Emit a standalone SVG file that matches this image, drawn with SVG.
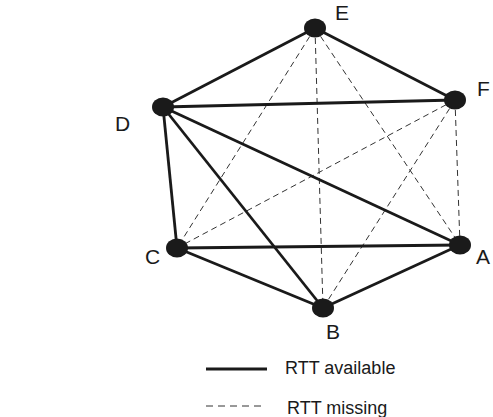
<svg xmlns="http://www.w3.org/2000/svg" width="493" height="417" viewBox="0 0 493 417">
<style>
.solid{stroke:#1a1a1a;stroke-width:2.8;fill:none}
.dash{stroke:#333;stroke-width:1;stroke-dasharray:6 4;fill:none}
.node{fill:#1a1a1a}
.lbl{font-family:"Liberation Sans",Arial,sans-serif;font-size:21px;fill:#1a1a1a}
.leg{font-family:"Liberation Sans",Arial,sans-serif;font-size:18px;fill:#1a1a1a}
</style>
<rect width="493" height="417" fill="#fff"/>
<g id="connectors">
<line class="dash" x1="315" y1="28" x2="177" y2="248"/>
<line class="dash" x1="315" y1="28" x2="323" y2="308"/>
<line class="dash" x1="315" y1="28" x2="460" y2="245"/>
<line class="dash" x1="455" y1="100" x2="177" y2="248"/>
<line class="dash" x1="455" y1="100" x2="323" y2="308"/>
<line class="dash" x1="455" y1="100" x2="460" y2="245"/>
<line class="solid" x1="315" y1="28" x2="163" y2="107"/>
<line class="solid" x1="315" y1="28" x2="455" y2="100"/>
<line class="solid" x1="163" y1="107" x2="455" y2="100"/>
<line class="solid" x1="163" y1="107" x2="177" y2="248"/>
<line class="solid" x1="163" y1="107" x2="460" y2="245"/>
<line class="solid" x1="163" y1="107" x2="323" y2="308"/>
<line class="solid" x1="177" y1="248" x2="460" y2="245"/>
<line class="solid" x1="177" y1="248" x2="323" y2="308"/>
<line class="solid" x1="323" y1="308" x2="460" y2="245"/>
</g>
<g id="E"><ellipse class="node" cx="315" cy="28" rx="11" ry="9.5"/><text class="lbl" x="335" y="20">E</text></g>
<g id="F"><ellipse class="node" cx="455" cy="100" rx="11" ry="9.5"/><text class="lbl" x="477" y="96">F</text></g>
<g id="D"><ellipse class="node" cx="163" cy="107" rx="11" ry="9.5"/><text class="lbl" x="115" y="131">D</text></g>
<g id="C"><ellipse class="node" cx="177" cy="248" rx="11" ry="9.5"/><text class="lbl" x="145" y="264">C</text></g>
<g id="A"><ellipse class="node" cx="460" cy="245" rx="11" ry="9.5"/><text class="lbl" x="476" y="264">A</text></g>
<g id="B"><ellipse class="node" cx="323" cy="308" rx="11" ry="9.5"/><text class="lbl" x="326" y="339">B</text></g>
<g id="legend">
<line class="solid" x1="206" y1="369" x2="267" y2="369"/>
<text class="leg" x="285" y="374">RTT available</text>
<line class="dash" x1="206" y1="406" x2="264" y2="406" style="stroke-dasharray:7 5"/>
<text class="leg" x="287" y="414">RTT missing</text>
</g>
</svg>
